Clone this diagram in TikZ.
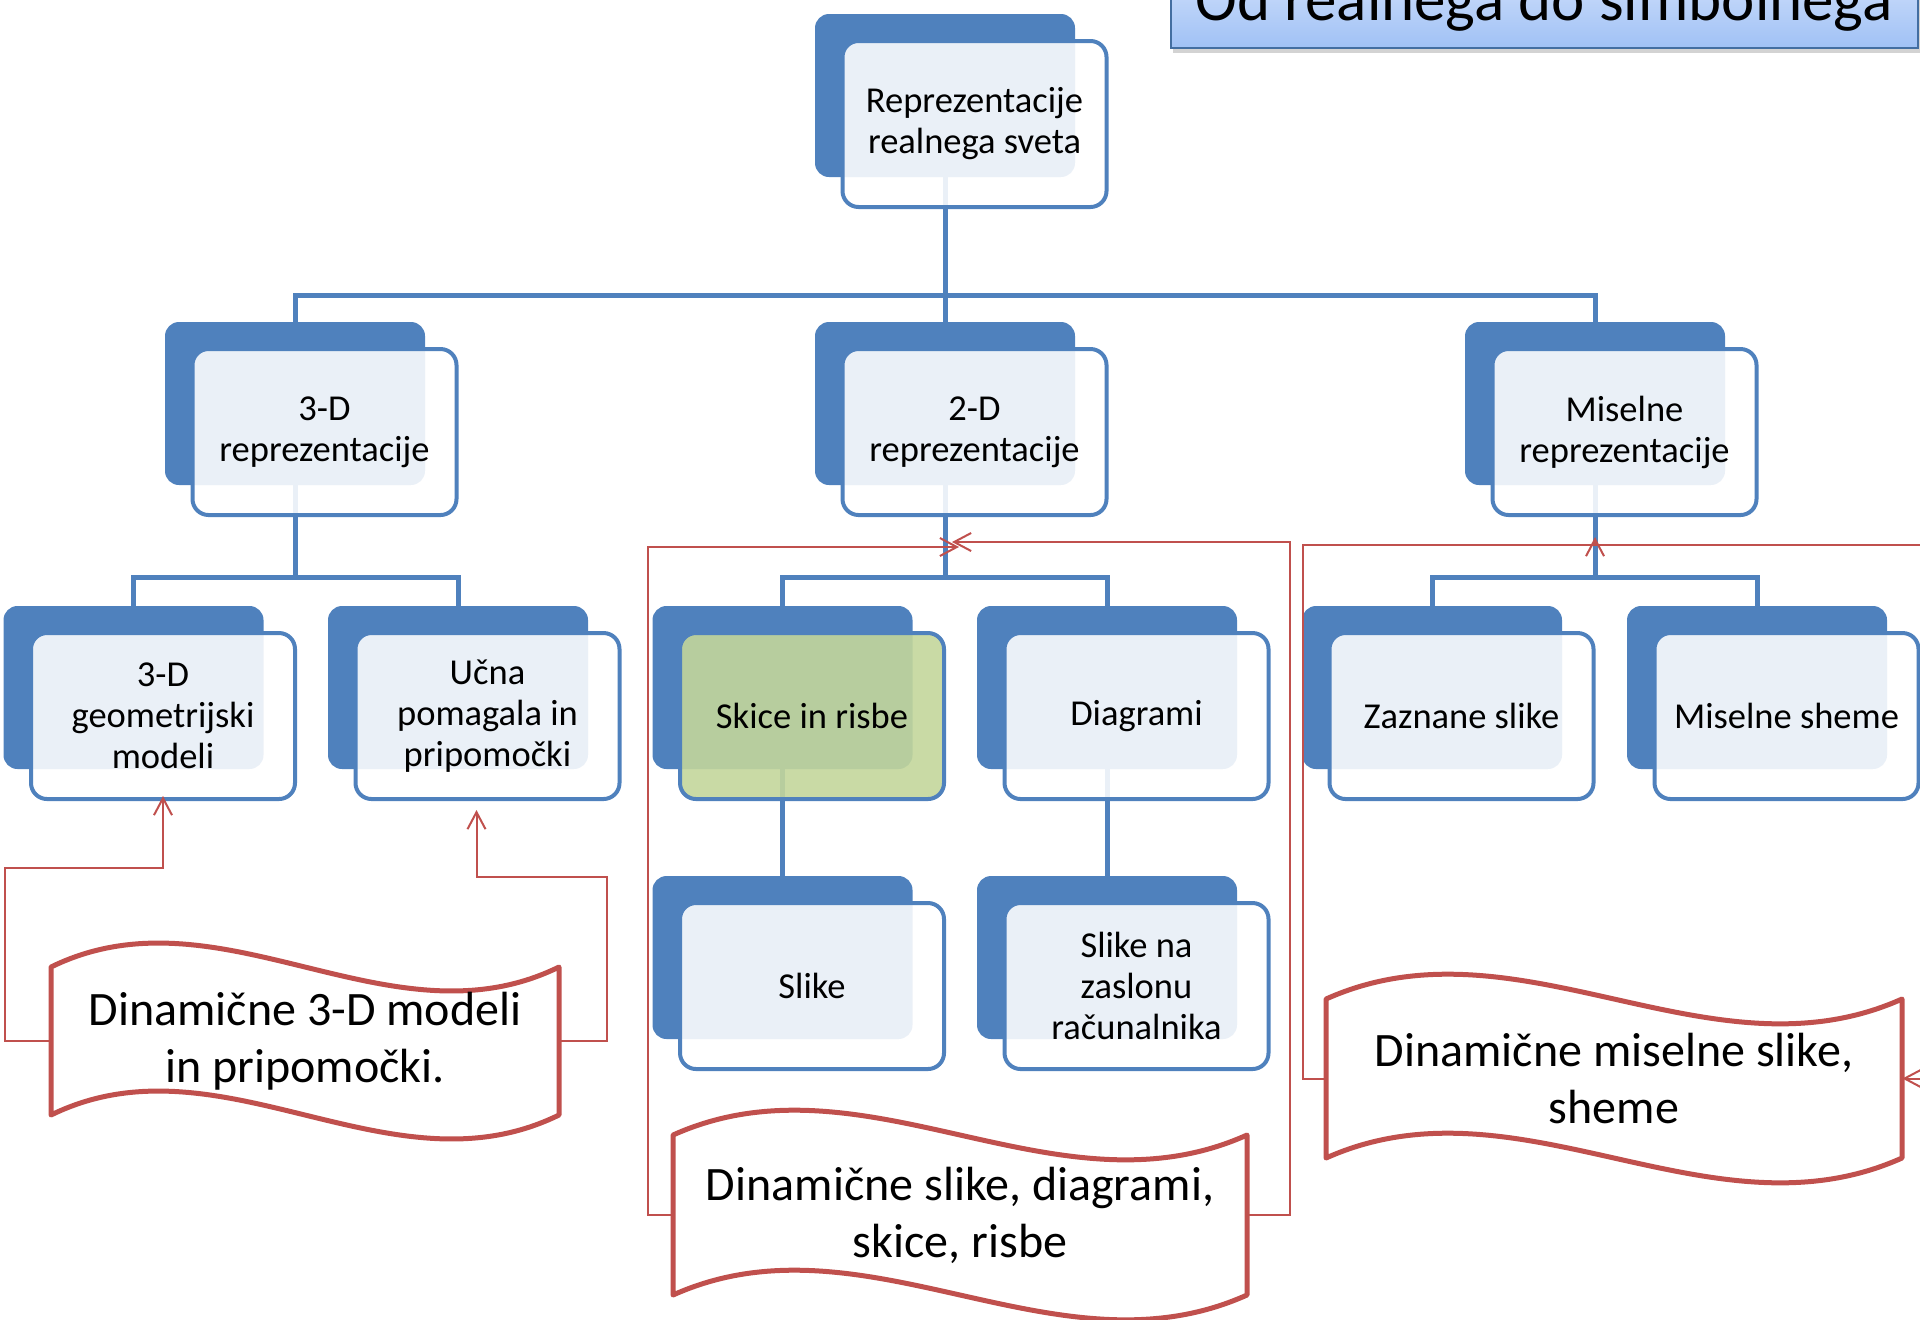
\documentclass[tikz,border=0pt]{standalone}
\usepackage{fontspec}
\setmainfont{Carlito}
\usetikzlibrary{arrows.meta,calc,shadows}
\definecolor{accblue}{HTML}{4F81BD}
\definecolor{accred}{HTML}{C0504D}
\definecolor{accgreen}{HTML}{C3D69B}
\definecolor{ttop}{RGB}{208,224,251}
\definecolor{tbot}{RGB}{160,193,245}
\newcommand{\frontnode}[3][frontbox]{\node[#1] (#2) at ($(#2b)+(29.5,28.5)$) {#3};}
\newcommand{\wavebox}[7]{%
  \filldraw[wavedraw] (#2-#4/2,#3-#5/2) .. controls (#2-#4/6,#3-#5/2-#6) and (#2+#4/6,#3-#5/2+#6) .. (#2+#4/2,#3-#5/2)
    -- (#2+#4/2,#3+#5/2) .. controls (#2+#4/6,#3+#5/2+#6) and (#2-#4/6,#3+#5/2-#6) .. (#2-#4/2,#3+#5/2) -- cycle;
  \node[wavetext, minimum width=#4*0.5pt, minimum height=#5*0.5pt] (#1) at (#2,#3) {#7};}
\begin{document}
\begin{tikzpicture}[x=0.5pt,y=-0.5pt,
  backbox/.style={fill=accblue, draw=none, rounded corners=7pt, minimum width=130pt, minimum height=81.5pt, inner sep=0pt},
  frontbox/.style={draw=accblue, line width=2pt, fill=white, fill opacity=0.885, text opacity=1, rounded corners=8pt,
    minimum width=132pt, minimum height=83pt, align=center, inner sep=0pt, font=\fontsize{18.25}{20.5}\selectfont},
  greenbox/.style={frontbox, fill=accgreen, fill opacity=0.9},
  conn/.style={draw=accblue, line width=2.5pt},
  redc/.style={draw=accred, line width=1pt, -{Straight Barb[length=8.5pt,width=9pt]}},
  wavedraw/.style={draw=accred, line width=2.5pt, fill=white, line join=round},
  wavetext/.style={draw=none, inner sep=0pt, align=center, font=\fontsize{24}{28.5}\selectfont},
  titlebox/.style={draw=accblue!85!black, line width=1pt, top color=ttop, bottom color=tbot,
    minimum width=373.5pt, minimum height=39pt, inner sep=0pt,
    drop shadow={shadow xshift=1pt, shadow yshift=-2.5pt, opacity=0.35}}
]
\useasboundingbox (0,0) rectangle (1920,1319);

% title
\node[titlebox] (tbox) at (1544.5,9) {};
\node[anchor=base, inner sep=0pt, font=\fontsize{31.5}{36}\selectfont] (ttext) at (1544,20) {Od realnega do simbolnega};

% back boxes
\node[backbox] (rootb) at (945,95.5) {};
\node[backbox] (l1ab) at (295,403.5) {};
\node[backbox] (l1bb) at (945,403.5) {};
\node[backbox] (l1cb) at (1595,403.5) {};
\node[backbox] (l2ab) at (133.5,687.5) {};
\node[backbox] (l2bb) at (458,687.5) {};
\node[backbox] (l2cb) at (782.5,687.5) {};
\node[backbox] (l2db) at (1107,687.5) {};
\node[backbox] (l2eb) at (1432,687.5) {};
\node[backbox] (l2fb) at (1757,687.5) {};
\node[backbox] (l3ab) at (782.5,957.5) {};
\node[backbox] (l3bb) at (1107,957.5) {};

% blue connectors
\coordinate (bus0) at (945,295);
\coordinate (bus1) at (295,577);
\coordinate (bus2) at (945,577);
\coordinate (bus3) at (1595,577);
\draw[conn] (rootb.south) -- (l1bb.north);
\draw[conn] (l1ab.north) |- (bus0) -| (l1cb.north);
\draw[conn] (l1ab.south) -- (bus1);
\draw[conn] (l2ab.north) |- (bus1) -| (l2bb.north);
\draw[conn] (l1bb.south) -- (bus2);
\draw[conn] (l2cb.north) |- (bus2) -| (l2db.north);
\draw[conn] (l1cb.south) -- (bus3);
\draw[conn] (l2eb.north) |- (bus3) -| (l2fb.north);
\draw[conn] (l2cb.south) -- (l3ab.north);
\draw[conn] (l2db.south) -- (l3bb.north);

% front boxes
\frontnode{root}{Reprezentacije\\realnega sveta}
\frontnode{l1a}{3-D\\reprezentacije}
\frontnode{l1b}{2-D\\reprezentacije}
\frontnode{l1c}{Miselne\\reprezentacije}
\frontnode{l2a}{3-D\\geometrijski\\modeli}
\frontnode{l2b}{Učna\\pomagala in\\pripomočki}
\frontnode[greenbox]{l2c}{Skice in risbe}
\frontnode{l2d}{Diagrami}
\frontnode{l2e}{Zaznane slike}
\frontnode{l2f}{Miselne sheme}
\frontnode{l3a}{Slike}
\frontnode{l3b}{Slike na\\zaslonu\\računalnika}

% waves
\wavebox{w1}{305}{1041}{508}{148}{83}{Dinamične 3-D modeli\\in pripomočki.}
\wavebox{w2}{960}{1215}{574}{160}{86}{Dinamične slike, diagrami,\\skice, risbe}
\wavebox{w3}{1614}{1078.5}{576}{159}{86}{Dinamične miselne slike,\\sheme}

% red connectors
\draw[redc] (w1.west) -- ++(-46,0) |- ($(l2a.south)+(0,67)$) -- ($(l2a.south)+(0,-5)$);
\draw[redc] (w1.east) -- ++(48,0) |- ($(l2b.south)+(-11,76)$) -- ($(l2b.south)+(-11,9)$);
\coordinate (m1) at (959,547);
\coordinate (m2) at (952,542);
\draw[redc] (w2.west) -- ++(-25,0) |- (m1);
\draw[redc] (w2.east) -- ++(43,0) |- (m2);
\coordinate (r1) at (1595,545);
\coordinate (r1tip) at (1595,537);
\draw[redc] (w3.west) -- ++(-23,0) |- (r1) -- (r1tip);
\draw[redc] (r1) -- (1950,545) |- (w3.east);
\end{tikzpicture}
\end{document}
